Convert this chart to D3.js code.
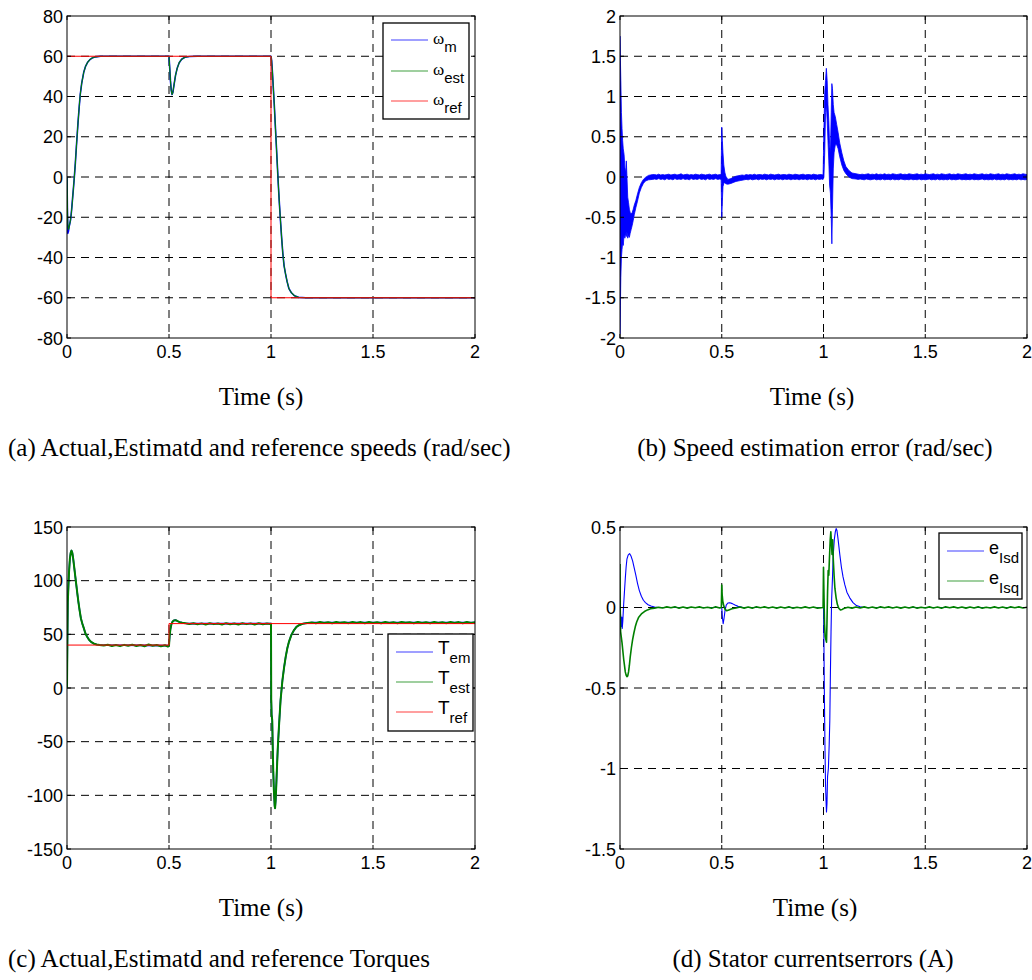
<!DOCTYPE html>
<html><head><meta charset="utf-8">
<script src="https://cdn.jsdelivr.net/npm/d3@7"></script>
<style>
body{margin:0;background:#fff;}
svg{display:block;}
.tk{font-family:"Liberation Sans",Arial,Helvetica,sans-serif;font-size:18px;fill:#000;}
.cap{font-family:"Liberation Serif","Times New Roman",serif;font-size:25px;fill:#000;}
</style></head><body>
<svg id="fig" width="1032" height="980"></svg>
<script>
// ---------- tick values ----------
const timeTicks = [0, 0.5, 1, 1.5, 2];
const speedTicks = [-80, -60, -40, -20, 0, 20, 40, 60, 80];
const errTicks = [-2, -1.5, -1, -0.5, 0, 0.5, 1, 1.5, 2];
const torqueTicks = [-150, -100, -50, 0, 50, 100, 150];
const currTicks = [-1.5, -1, -0.5, 0, 0.5];

// ---------- (a) speeds [t, rad/s] ----------
const speedRef = [[0,60],[1,60],[1,-60],[2,-60]];
const speedMeas = [[0,0],[0.002,-17],[0.004,-28],[0.007,-27],[0.010,-25],[0.014,-23],[0.018,-21],[0.022,-17],[0.027,-11],
  [0.032,-5],[0.036,0],[0.041,7],[0.046,15],[0.050,21],[0.054,27],[0.060,35],[0.065,41],[0.072,46.5],[0.082,52],
  [0.091,55],[0.101,57],[0.112,58.3],[0.123,59.1],[0.140,59.7],[0.165,60],[0.5,60],[0.503,55],[0.507,48],[0.511,43],
  [0.515,41],[0.519,42],[0.525,46],[0.532,50.5],[0.540,54],[0.550,56.8],[0.562,58.5],[0.578,59.5],[0.600,59.9],
  [0.640,60],[1.0,60],[1.003,58],[1.007,52],[1.011,45],[1.016,36],[1.021,26],[1.026,16],[1.031,6],[1.036,-4],
  [1.041,-13],[1.046,-21],[1.052,-30],[1.058,-38],[1.064,-44],[1.071,-48],[1.079,-52],[1.088,-55.5],[1.100,-57.5],
  [1.115,-59],[1.135,-59.8],[1.170,-60],[2,-60]];
const speedEst = [[0,0],[0.003,-20],[0.005,-25],[0.008,-26],[0.012,-24],[0.016,-22],[0.020,-19],[0.024,-15],[0.028,-10],
  [0.032,-5],[0.036,0],[0.041,7],[0.046,15],[0.050,21],[0.054,27],[0.060,35],[0.065,41],[0.072,46.5],[0.082,52],
  [0.091,55],[0.101,57],[0.112,58.3],[0.123,59.1],[0.140,59.7],[0.165,60],[0.5,60],[0.503,55],[0.507,48],[0.511,43],
  [0.515,41],[0.519,42],[0.525,46],[0.532,50.5],[0.540,54],[0.550,56.8],[0.562,58.5],[0.578,59.5],[0.600,59.9],
  [0.640,60],[1.0,60],[1.003,58],[1.007,52],[1.011,45],[1.016,36],[1.021,26],[1.026,16],[1.031,6],[1.036,-4],
  [1.041,-13],[1.046,-21],[1.052,-30],[1.058,-38],[1.064,-44],[1.071,-48],[1.079,-52],[1.088,-55.5],[1.100,-57.5],
  [1.115,-59],[1.135,-59.8],[1.170,-60],[2,-60]];

// ---------- (b) speed estimation error, min/max envelope [t, low, high] ----------
const speedErr = [
  [0.000,-1.95,1.75],[0.002,-1.6,1.45],[0.004,-1.25,1.2],[0.007,-1.0,0.8],[0.010,-0.9,0.6],[0.013,-0.82,0.45],
  [0.016,-0.85,0.35],[0.020,-0.72,0.28],[0.024,-0.76,0.12],[0.028,-0.7,0.05],[0.031,-0.74,0.2],[0.034,-0.68,0.02],
  [0.038,-0.76,-0.25],[0.042,-0.72,-0.32],[0.046,-0.75,-0.4],[0.050,-0.7,-0.44],[0.055,-0.65,-0.46],[0.060,-0.6,-0.44],
  [0.065,-0.54,-0.4],[0.070,-0.47,-0.35],[0.078,-0.38,-0.29],[0.086,-0.3,-0.21],[0.095,-0.2,-0.13],[0.105,-0.13,-0.07],
  [0.115,-0.08,-0.03],[0.125,-0.05,-0.005],[0.140,-0.035,0.02],[0.160,-0.03,0.03],
  [0.17,-0.025,0.03],[0.18,-0.03,0.025],[0.19,-0.02,0.035],[0.20,-0.03,0.025],[0.21,-0.025,0.03],[0.22,-0.035,0.025],
  [0.23,-0.02,0.03],[0.24,-0.03,0.035],[0.25,-0.025,0.025],[0.26,-0.035,0.03],[0.27,-0.02,0.035],[0.28,-0.03,0.025],
  [0.29,-0.025,0.03],[0.30,-0.03,0.04],[0.31,-0.02,0.025],[0.32,-0.03,0.03],[0.33,-0.025,0.035],[0.34,-0.035,0.025],
  [0.35,-0.02,0.03],[0.36,-0.03,0.025],[0.37,-0.025,0.035],[0.38,-0.03,0.03],[0.39,-0.02,0.025],[0.40,-0.03,0.035],
  [0.41,-0.025,0.03],[0.42,-0.035,0.025],[0.43,-0.02,0.03],[0.44,-0.03,0.035],[0.45,-0.025,0.025],[0.46,-0.03,0.03],
  [0.47,-0.02,0.035],[0.48,-0.03,0.025],[0.49,-0.025,0.03],[0.497,-0.03,0.03],
  [0.500,-0.5,0.62],[0.503,-0.3,0.45],[0.506,-0.12,0.3],[0.510,-0.08,0.15],[0.515,-0.07,0.06],[0.520,-0.085,0.01],
  [0.530,-0.09,-0.03],[0.545,-0.08,-0.02],[0.560,-0.065,0.0],[0.57,-0.055,0.01],
  [0.58,-0.05,0.015],[0.59,-0.045,0.02],[0.60,-0.04,0.025],[0.61,-0.035,0.02],[0.62,-0.03,0.03],[0.63,-0.035,0.025],
  [0.64,-0.025,0.03],[0.65,-0.035,0.025],[0.66,-0.03,0.035],[0.67,-0.025,0.025],[0.68,-0.035,0.03],[0.69,-0.025,0.03],
  [0.70,-0.03,0.025],[0.71,-0.025,0.035],[0.72,-0.035,0.03],[0.73,-0.025,0.025],[0.74,-0.03,0.035],[0.75,-0.025,0.03],
  [0.76,-0.035,0.025],[0.77,-0.025,0.03],[0.78,-0.03,0.035],[0.79,-0.025,0.025],[0.80,-0.035,0.03],[0.81,-0.025,0.03],
  [0.82,-0.03,0.025],[0.83,-0.025,0.035],[0.84,-0.035,0.03],[0.85,-0.025,0.025],[0.86,-0.03,0.035],[0.87,-0.025,0.03],
  [0.88,-0.035,0.025],[0.89,-0.025,0.03],[0.90,-0.03,0.035],[0.91,-0.025,0.025],[0.92,-0.035,0.03],[0.93,-0.025,0.03],
  [0.94,-0.03,0.025],[0.95,-0.025,0.035],[0.96,-0.035,0.03],[0.97,-0.025,0.025],[0.98,-0.03,0.03],[0.99,-0.025,0.03],
  [0.998,-0.03,0.025],
  [1.000,-0.02,0.3],[1.002,0.0,0.6],[1.006,0.3,1.05],[1.010,0.8,1.2],[1.014,0.9,1.35],[1.018,0.7,1.2],[1.022,0.45,0.9],
  [1.026,0.2,0.7],[1.030,-0.1,0.4],[1.034,-0.2,0.3],[1.038,-0.5,0.8],[1.041,-0.83,1.16],[1.044,-0.4,1.1],[1.048,0.1,0.9],
  [1.052,0.3,0.8],[1.058,0.4,0.75],[1.065,0.4,0.65],[1.072,0.35,0.55],[1.080,0.25,0.42],[1.090,0.15,0.3],
  [1.100,0.08,0.2],[1.110,0.04,0.13],[1.125,0.0,0.08],[1.140,-0.02,0.05],[1.160,-0.025,0.04],
  [1.17,-0.03,0.035],[1.18,-0.025,0.03],[1.19,-0.03,0.035],[1.20,-0.035,0.03],[1.21,-0.025,0.035],[1.22,-0.03,0.04],
  [1.23,-0.035,0.03],[1.24,-0.03,0.035],[1.25,-0.025,0.03],[1.26,-0.035,0.04],[1.27,-0.03,0.03],[1.28,-0.035,0.035],
  [1.29,-0.025,0.03],[1.30,-0.035,0.04],[1.31,-0.03,0.03],[1.32,-0.03,0.035],[1.33,-0.035,0.03],[1.34,-0.025,0.04],
  [1.35,-0.035,0.035],[1.36,-0.03,0.03],[1.37,-0.035,0.035],[1.38,-0.025,0.04],[1.39,-0.03,0.03],[1.40,-0.035,0.035],
  [1.41,-0.03,0.03],[1.42,-0.035,0.04],[1.43,-0.025,0.035],[1.44,-0.035,0.03],[1.45,-0.03,0.035],[1.46,-0.035,0.04],
  [1.47,-0.025,0.03],[1.48,-0.035,0.035],[1.49,-0.03,0.03],[1.50,-0.035,0.04],[1.51,-0.03,0.035],[1.52,-0.025,0.03],
  [1.53,-0.035,0.035],[1.54,-0.03,0.04],[1.55,-0.035,0.03],[1.56,-0.025,0.035],[1.57,-0.035,0.03],[1.58,-0.03,0.04],
  [1.59,-0.035,0.035],[1.60,-0.03,0.03],[1.61,-0.035,0.035],[1.62,-0.025,0.04],[1.63,-0.035,0.03],[1.64,-0.03,0.035],
  [1.65,-0.035,0.03],[1.66,-0.03,0.04],[1.67,-0.025,0.035],[1.68,-0.035,0.03],[1.69,-0.03,0.035],[1.70,-0.035,0.04],
  [1.71,-0.03,0.03],[1.72,-0.035,0.035],[1.73,-0.025,0.03],[1.74,-0.035,0.04],[1.75,-0.03,0.035],[1.76,-0.035,0.03],
  [1.77,-0.03,0.035],[1.78,-0.025,0.04],[1.79,-0.035,0.03],[1.80,-0.03,0.035],[1.81,-0.035,0.03],[1.82,-0.03,0.04],
  [1.83,-0.035,0.035],[1.84,-0.025,0.03],[1.85,-0.035,0.035],[1.86,-0.03,0.04],[1.87,-0.035,0.03],[1.88,-0.03,0.035],
  [1.89,-0.035,0.03],[1.90,-0.025,0.04],[1.91,-0.035,0.035],[1.92,-0.03,0.03],[1.93,-0.035,0.035],[1.94,-0.03,0.04],
  [1.95,-0.035,0.03],[1.96,-0.025,0.035],[1.97,-0.035,0.03],[1.98,-0.03,0.04],[1.99,-0.035,0.035],[2.0,-0.03,0.03]];

// ---------- (c) torques [t, N.m] ----------
const torqueRef = [[0,40],[0.5,40],[0.5,60],[2,60]];
const torqueEm = [[0,0],[0.002,45],[0.004,80],[0.007,95],[0.010,108],[0.014,120],[0.018,126],[0.022,128],[0.026,126],
  [0.030,121],[0.035,113],[0.040,105],[0.045,97],[0.050,89],[0.056,80],[0.062,72],[0.068,65],[0.075,60],[0.082,56],
  [0.090,51],[0.098,48],[0.108,45],[0.118,43],[0.130,41.5],[0.145,40.5],[0.16,40],[0.5,39.5],[0.503,48],[0.507,55],
  [0.512,59.5],[0.518,62],[0.525,63],[0.533,63.2],[0.542,62.3],[0.552,61.4],[0.565,60.8],[0.58,60.3],[0.60,60],
  [1.0,60],[1.001,-10],[1.003,-25],[1.006,-30],[1.009,-60],[1.011,-77],[1.014,-95],[1.018,-110],[1.020,-112],
  [1.023,-104],[1.026,-90],[1.028,-80],[1.033,-57],[1.039,-36],[1.047,-11],[1.056,7],[1.064,19],[1.072,29],
  [1.080,37],[1.088,43],[1.100,49.5],[1.113,54],[1.125,57],[1.137,58.5],[1.155,59.8],[1.178,60.5],[1.2,61],[2,61]];
const torqueEst = [[0,0],[0.002,45],[0.004,80],[0.007,95],[0.010,108],[0.014,120],[0.018,126],[0.022,128],[0.026,126],
  [0.030,121],[0.035,113],[0.040,105],[0.045,97],[0.050,89],[0.056,80],[0.062,72],[0.068,65],[0.075,60],[0.082,56],
  [0.090,51],[0.098,48],[0.108,45],[0.118,43],[0.130,41.5],[0.145,40.5],[0.16,40],[0.18,39.5],
  [0.20,40.3],[0.22,39.2],[0.24,40],[0.26,39],[0.28,40.2],[0.30,39.3],[0.32,40.4],[0.34,39.1],[0.36,40.1],[0.38,38.9],
  [0.40,40.5],[0.42,39.3],[0.44,40],[0.46,38.8],[0.48,39.8],[0.495,38.5],[0.500,39.5],[0.503,48],[0.507,55],
  [0.512,59.5],[0.518,62],[0.525,63],[0.533,63.2],[0.542,62.3],[0.552,61.4],[0.565,60.8],[0.58,60.3],[0.60,59.6],
  [0.62,60.4],[0.64,59.4],[0.66,60.2],[0.68,59.2],[0.70,60.3],[0.72,59.5],[0.74,60.1],[0.76,59.2],[0.78,60.4],[0.80,59.4],
  [0.82,60.1],[0.84,59.1],[0.86,60.3],[0.88,59.5],[0.90,60.2],[0.92,59.2],[0.94,60.3],[0.96,59.4],[0.98,60.1],[0.998,59.6],
  [1.0,60],[1.001,-10],[1.003,-25],[1.006,-30],[1.009,-60],[1.011,-77],[1.014,-95],[1.018,-110],[1.020,-112],
  [1.023,-104],[1.026,-90],[1.028,-80],[1.033,-57],[1.039,-36],[1.047,-11],[1.056,7],[1.064,19],[1.072,29],
  [1.080,37],[1.088,43],[1.100,49.5],[1.113,54],[1.125,57],[1.137,58.5],[1.155,59.8],[1.178,60.5],[1.2,61],
  [1.22,60.4],[1.24,61.5],[1.26,60.6],[1.28,61.3],[1.30,60.3],[1.32,61.6],[1.34,60.7],[1.36,61.2],[1.38,60.4],[1.40,61.6],
  [1.42,60.5],[1.44,61.4],[1.46,60.4],[1.48,61.5],[1.50,60.6],[1.52,61.2],[1.54,60.3],[1.56,61.6],[1.58,60.5],[1.60,61.3],
  [1.62,60.4],[1.64,61.5],[1.66,60.7],[1.68,61.2],[1.70,60.3],[1.72,61.6],[1.74,60.5],[1.76,61.3],[1.78,60.4],[1.80,61.5],
  [1.82,60.6],[1.84,61.2],[1.86,60.4],[1.88,61.6],[1.90,60.5],[1.92,61.4],[1.94,60.4],[1.96,61.5],[1.98,60.6],[2.0,61.2]];

// ---------- (d) stator current errors [t, A] ----------
const errIsd = [[0,0],[0.003,-0.05],[0.006,-0.12],[0.009,-0.06],[0.011,-0.13],[0.014,-0.08],[0.018,0.02],[0.022,0.1],
  [0.026,0.18],[0.030,0.25],[0.034,0.3],[0.040,0.325],[0.047,0.335],[0.054,0.32],[0.062,0.29],[0.070,0.245],
  [0.078,0.2],[0.086,0.15],[0.095,0.105],[0.105,0.07],[0.115,0.045],[0.125,0.03],[0.138,0.017],[0.152,0.009],
  [0.170,0.003],[0.19,0],[0.5,0],[0.503,-0.06],[0.507,-0.1],[0.511,-0.07],[0.516,-0.02],[0.522,0.015],[0.530,0.028],
  [0.540,0.03],[0.552,0.024],[0.565,0.015],[0.58,0.007],[0.6,0.002],[0.63,0],[1.0,0],[1.002,-0.2],[1.004,-0.5],
  [1.007,-0.85],[1.010,-1.1],[1.013,-1.22],[1.0147,-1.27],[1.017,-1.22],[1.020,-1.05],[1.024,-1.0],[1.028,-0.85],
  [1.031,-0.7],[1.034,-0.4],[1.037,-0.15],[1.040,0.05],[1.044,0.18],[1.048,0.33],[1.053,0.42],[1.058,0.47],
  [1.062,0.49],[1.066,0.48],[1.072,0.42],[1.080,0.33],[1.088,0.25],[1.096,0.19],[1.105,0.14],[1.115,0.095],
  [1.129,0.06],[1.145,0.03],[1.162,0.012],[1.18,0.004],[1.2,0],[2,0]];
const errIsq = [[0,0.27],[0.001,0.0],[0.003,-0.15],[0.006,-0.18],[0.010,-0.22],[0.014,-0.27],[0.018,-0.32],[0.022,-0.36],
  [0.026,-0.4],[0.030,-0.42],[0.034,-0.43],[0.038,-0.425],[0.042,-0.4],[0.046,-0.36],[0.050,-0.31],[0.056,-0.25],
  [0.062,-0.2],[0.068,-0.16],[0.075,-0.12],[0.082,-0.09],[0.092,-0.06],[0.105,-0.04],[0.12,-0.025],[0.135,-0.015],
  [0.15,-0.008],[0.17,-0.004],[0.19,0.001],[0.21,-0.003],[0.23,0.004],[0.25,-0.002],[0.27,0.004],[0.29,-0.004],
  [0.31,0.003],[0.33,-0.004],[0.35,0.003],[0.37,-0.002],[0.39,0.004],[0.41,-0.003],[0.43,0.002],[0.45,-0.004],
  [0.47,0.004],[0.49,-0.003],[0.498,0],[0.500,0.14],[0.502,0.08],[0.505,0.04],[0.510,0.01],[0.516,-0.01],[0.524,-0.02],
  [0.535,-0.015],[0.55,-0.008],[0.57,-0.003],[0.59,0.003],[0.61,-0.004],[0.63,0.003],[0.65,-0.004],[0.67,0.004],
  [0.69,-0.002],[0.71,0.004],[0.73,-0.003],[0.75,0.003],[0.77,-0.004],[0.79,0.003],[0.81,-0.003],[0.83,0.004],
  [0.85,-0.004],[0.87,0.002],[0.89,-0.003],[0.91,0.004],[0.93,-0.003],[0.95,0.003],[0.97,-0.004],[0.998,0],
  [1.000,0.25],[1.002,0.1],[1.005,-0.1],[1.008,-0.18],[1.0147,-0.215],[1.017,-0.1],[1.020,0.1],[1.023,0.23],
  [1.026,0.2],[1.029,0.3],[1.033,0.42],[1.036,0.47],[1.039,0.4],[1.042,0.33],[1.045,0.42],[1.048,0.3],[1.052,0.2],
  [1.056,0.12],[1.062,0.06],[1.068,0.02],[1.075,-0.005],[1.083,-0.015],[1.092,-0.012],[1.10,-0.006],[1.12,0.002],
  [1.14,-0.004],[1.16,0.003],[1.18,-0.003],[1.20,0.004],[1.22,-0.003],[1.24,0.003],[1.26,-0.004],[1.28,0.004],
  [1.30,-0.002],[1.32,0.004],[1.34,-0.003],[1.36,0.003],[1.38,-0.004],[1.40,0.003],[1.42,-0.003],[1.44,0.004],
  [1.46,-0.004],[1.48,0.002],[1.50,-0.003],[1.52,0.004],[1.54,-0.003],[1.56,0.003],[1.58,-0.004],[1.60,0.004],
  [1.62,-0.002],[1.64,0.004],[1.66,-0.003],[1.68,0.003],[1.70,-0.004],[1.72,0.003],[1.74,-0.003],[1.76,0.004],
  [1.78,-0.004],[1.80,0.002],[1.82,-0.003],[1.84,0.004],[1.86,-0.003],[1.88,0.003],[1.90,-0.004],[1.92,0.004],
  [1.94,-0.002],[1.96,0.004],[1.98,-0.003],[2.0,0.002]];

const BLUE = "#0000ff", GREEN = "#008000", RED = "#ff0000";
const svg = d3.select("#fig");

// Build one axes frame: grid, box, inward ticks and tick labels.
function makeAxes(id, left, right, top, bottom, yDomain, yTicks) {
  const x = d3.scaleLinear().domain([0, 2]).range([left, right]);
  const y = d3.scaleLinear().domain(yDomain).range([bottom, top]);
  const g = svg.append("g");
  g.append("clipPath").attr("id", id).append("rect")
    .attr("x", left).attr("y", top).attr("width", right - left).attr("height", bottom - top);

  const grid = g.append("g").attr("stroke", "#000").attr("stroke-width", 1)
    .attr("stroke-dasharray", "8,6").attr("fill", "none");
  timeTicks.slice(1, -1).forEach(t =>
    grid.append("line").attr("x1", x(t)).attr("x2", x(t)).attr("y1", top).attr("y2", bottom));
  yTicks.slice(1, -1).forEach(v =>
    grid.append("line").attr("x1", left).attr("x2", right).attr("y1", y(v)).attr("y2", y(v)));

  const plot = g.append("g").attr("clip-path", `url(#${id})`);

  const frame = g.append("g").attr("stroke", "#000").attr("fill", "none").attr("stroke-width", 1);
  frame.append("rect").attr("x", left).attr("y", top).attr("width", right - left).attr("height", bottom - top);
  timeTicks.forEach(t => {
    frame.append("line").attr("x1", x(t)).attr("x2", x(t)).attr("y1", bottom).attr("y2", bottom - 4);
    frame.append("line").attr("x1", x(t)).attr("x2", x(t)).attr("y1", top).attr("y2", top + 4);
  });
  yTicks.forEach(v => {
    frame.append("line").attr("x1", left).attr("x2", left + 4).attr("y1", y(v)).attr("y2", y(v));
    frame.append("line").attr("x1", right).attr("x2", right - 4).attr("y1", y(v)).attr("y2", y(v));
  });

  g.append("g").selectAll("text").data(yTicks).join("text").attr("class", "tk")
    .attr("font-size", 18)
    .attr("x", left - 4).attr("y", d => y(d) + 6.5).attr("text-anchor", "end").text(d => String(d));
  g.append("g").selectAll("text").data(timeTicks).join("text").attr("class", "tk")
    .attr("font-size", 18)
    .attr("x", d => x(d)).attr("y", bottom + 20).attr("text-anchor", "middle").text(d => String(d));
  return { x, y, plot, g };
}

function drawLine(ax, data, color, width) {
  const line = d3.line().x(d => ax.x(d[0])).y(d => ax.y(d[1]));
  ax.plot.append("path").datum(data).attr("d", line).attr("fill", "none")
    .attr("stroke", color).attr("stroke-width", width).attr("stroke-linejoin", "round");
}

// Legend box with sample lines and subscripted labels.
function legend(ax, bx, by, bw, bh, items, o) {
  const L = ax.g.append("g");
  L.append("rect").attr("x", bx).attr("y", by).attr("width", bw).attr("height", bh)
    .attr("fill", "#fff").attr("stroke", "#000").attr("stroke-width", 1.3);
  items.forEach(it => {
    L.append("line").attr("x1", bx + o.l0).attr("x2", bx + o.l1).attr("y1", it.y).attr("y2", it.y)
      .attr("stroke", it.color).attr("stroke-width", 1.2).attr("opacity", 0.75);
    const t = L.append("text").attr("x", bx + o.tx).attr("y", it.y + o.base);
    t.append("tspan").attr("font-family", o.mainFont).attr("font-size", o.mainSize).text(o.main);
    t.append("tspan").attr("font-family", "Liberation Sans, Arial, sans-serif")
      .attr("font-size", o.subSize).attr("dy", o.subDy).text(it.sub);
  });
}

// ---------- (a) ----------
const axA = makeAxes("clipA", 67, 475, 16, 338, [-80, 80], speedTicks);
drawLine(axA, speedMeas, BLUE, 1.6);
drawLine(axA, speedEst, GREEN, 1.1);
drawLine(axA, speedRef, RED, 1);
legend(axA, 383, 23, 86, 96, [
  { y: 40, color: BLUE, sub: "m" }, { y: 71, color: GREEN, sub: "est" }, { y: 101, color: RED, sub: "ref" }],
  { l0: 8, l1: 45, tx: 50, base: 4, main: "ω", mainFont: "Liberation Serif, serif", mainSize: 17, subSize: 15, subDy: 8 });

// ---------- (b) ----------
const axB = makeAxes("clipB", 620, 1027, 16, 338, [-2, 2], errTicks);
const band = d3.area().x(d => axB.x(d[0])).y0(d => axB.y(d[1])).y1(d => axB.y(d[2]));
axB.plot.append("path").datum(speedErr).attr("d", band).attr("fill", BLUE)
  .attr("stroke", BLUE).attr("stroke-width", 0.8).attr("stroke-linejoin", "round");

// ---------- (c) ----------
const axC = makeAxes("clipC", 67, 475, 527, 849, [-150, 150], torqueTicks);
drawLine(axC, torqueEm, BLUE, 1.6);
drawLine(axC, torqueEst, GREEN, 2);
drawLine(axC, torqueRef, RED, 1);
legend(axC, 388, 634, 85, 97, [
  { y: 652, color: BLUE, sub: "em" }, { y: 682, color: GREEN, sub: "est" }, { y: 712, color: RED, sub: "ref" }],
  { l0: 8, l1: 45, tx: 50, base: 2, main: "T", mainFont: "Liberation Sans, Arial, sans-serif", mainSize: 19, subSize: 15, subDy: 9 });

// ---------- (d) ----------
const axD = makeAxes("clipD", 620, 1027, 527, 849, [-1.5, 0.5], currTicks);
drawLine(axD, errIsd, BLUE, 1.1);
drawLine(axD, errIsq, GREEN, 1.6);
legend(axD, 939, 533, 83, 66, [
  { y: 551, color: BLUE, sub: "Isd" }, { y: 581, color: GREEN, sub: "Isq" }],
  { l0: 8, l1: 45, tx: 50, base: 3, main: "e", mainFont: "Liberation Sans, Arial, sans-serif", mainSize: 18, subSize: 15, subDy: 9 });

// ---------- axis titles and captions ----------
const labels = [
  { x: 261, y: 405, a: "middle", s: "Time (s)" },
  { x: 812, y: 405, a: "middle", s: "Time (s)" },
  { x: 261, y: 916, a: "middle", s: "Time (s)" },
  { x: 815, y: 916, a: "middle", s: "Time (s)" },
  { x: 8, y: 456, a: "start", s: "(a) Actual,Estimatd and reference speeds (rad/sec)" },
  { x: 815, y: 456, a: "middle", s: "(b) Speed estimation error (rad/sec)" },
  { x: 8, y: 967, a: "start", s: "(c) Actual,Estimatd and reference Torques" },
  { x: 813, y: 967, a: "middle", s: "(d) Stator currentserrors (A)" }];
svg.append("g").selectAll("text").data(labels).join("text").attr("class", "cap")
  .attr("x", d => d.x).attr("y", d => d.y).attr("text-anchor", d => d.a).text(d => d.s);
</script></body></html>
